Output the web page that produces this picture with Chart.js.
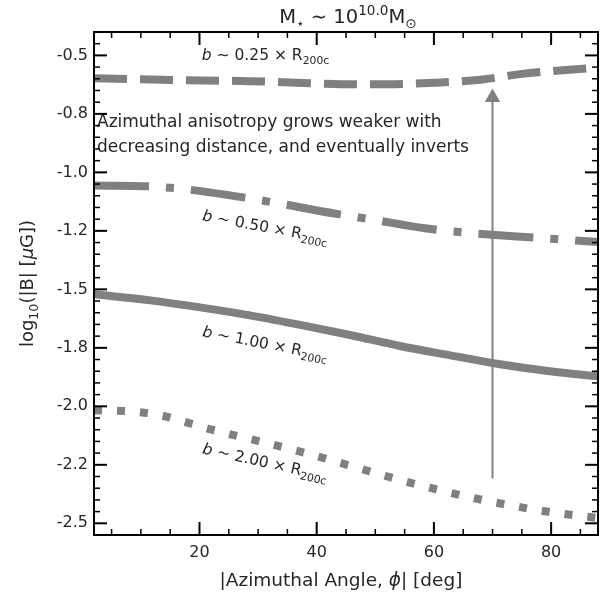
<!DOCTYPE html>
<html>
<head>
<meta charset="utf-8">
<script src="https://cdn.jsdelivr.net/npm/chart.js@4"></script>
<style>
  html, body { margin: 0; padding: 0; background: #fff; }
  #wrap { width: 610px; height: 601px; position: relative; }
</style>
</head>
<body>
<div id="wrap"><canvas id="c"></canvas></div>
<script>
// azimuthal angle (deg) and log10|B| for each impact parameter
const phi025 = [2, 20.6, 28.6, 36.5, 44.3, 52.2, 60.2, 68, 74.7, 83.7, 88];
const logB025 = [-0.598, -0.607, -0.61, -0.617, -0.623, -0.623, -0.617, -0.604, -0.58, -0.56, -0.553];

const phi050 = [2, 11.6, 17.9, 27.4, 33.4, 42.8, 49.1, 58.5, 64.8, 74.2, 80.7, 88];
const logB050 = [-1.056, -1.06, -1.073, -1.107, -1.132, -1.175, -1.2, -1.239, -1.256, -1.274, -1.285, -1.298];

const phi100 = [2, 11.6, 20.1, 28.6, 37.2, 45.7, 54.2, 62.8, 71.3, 79.8, 88];
const logB100 = [-1.521, -1.547, -1.577, -1.611, -1.652, -1.695, -1.742, -1.782, -1.82, -1.85, -1.872];

const phi200 = [2, 8.1, 13.3, 18.4, 22.1, 29.8, 37.7, 45.2, 52.5, 59.3, 66.2, 73, 79.8, 88];
const logB200 = [-2.017, -2.021, -2.038, -2.073, -2.1, -2.147, -2.197, -2.25, -2.303, -2.348, -2.389, -2.423, -2.452, -2.478];

// arrow from the outer to the inner curves
const arrowPhi = [70, 70];
const arrowLogB = [-2.308, -0.68];

const xTickValues = [20, 40, 60, 80];
const xTickLabels = ['20', '40', '60', '80'];
const xMinorTicks = [5, 10, 15, 25, 30, 35, 45, 50, 55, 65, 70, 75, 85];
const yTickValues = [-0.5, -0.75, -1.0, -1.25, -1.5, -1.75, -2.0, -2.25, -2.5];
const yTickLabels = ['-0.5', '-0.8', '-1.0', '-1.2', '-1.5', '-1.8', '-2.0', '-2.2', '-2.5'];

const FONT = '"DejaVu Sans", sans-serif';
const GRAY = '#808080';
const INK = '#262626';

const pts = (xs, ys) => xs.map((x, i) => ({ x, y: ys[i] }));

// rich text: parts = [{t, it, sub, sup}]
function richWidth(ctx, parts, size) {
  let w = 0;
  parts.forEach(p => {
    const s = (p.sub || p.sup) ? size * 0.7 : size;
    ctx.font = `${p.it ? 'italic ' : ''}${s}px ${FONT}`;
    w += ctx.measureText(p.t).width;
  });
  return w;
}
function drawRich(ctx, parts, x, y, angle, size, align) {
  ctx.save();
  ctx.translate(x, y);
  ctx.rotate(angle * Math.PI / 180);
  ctx.textBaseline = 'alphabetic';
  ctx.textAlign = 'left';
  ctx.fillStyle = INK;
  let cx = align === 'center' ? -richWidth(ctx, parts, size) / 2 : 0;
  parts.forEach(p => {
    const s = (p.sub || p.sup) ? size * 0.7 : size;
    ctx.font = `${p.it ? 'italic ' : ''}${s}px ${FONT}`;
    const dy = p.sub ? size * 0.25 : p.sup ? -size * 0.42 : 0;
    ctx.fillText(p.t, cx, dy);
    cx += ctx.measureText(p.t).width;
  });
  ctx.restore();
}

const bLabel = v => [{ t: 'b', it: true }, { t: ' \u223C ' + v + ' \u00D7 R' }, { t: '200c', sub: true }];

const curveLabels = [
  { parts: bLabel('0.25'), x: 20.4, y: -0.521, rot: 0 },
  { parts: bLabel('0.50'), x: 20.4, y: -1.205, rot: 10.5 },
  { parts: bLabel('1.00'), x: 20.4, y: -1.701, rot: 11 },
  { parts: bLabel('2.00'), x: 20.4, y: -2.201, rot: 12.5 },
];

const decorations = {
  id: 'decorations',
  afterDatasetsDraw(chart) {
    const { ctx, scales: { x, y } } = chart;
    curveLabels.forEach(l => drawRich(ctx, l.parts, x.getPixelForValue(l.x), y.getPixelForValue(l.y), l.rot, 15.5));
    // annotation text
    ctx.save();
    ctx.fillStyle = INK;
    ctx.font = `17px ${FONT}`;
    ctx.textBaseline = 'alphabetic';
    ctx.fillText('Azimuthal anisotropy grows weaker with', x.left + 3, 127);
    ctx.fillText('decreasing distance, and eventually inverts', x.left + 3, 152);
    ctx.restore();
  },
  afterDraw(chart) {
    const { ctx, chartArea: a, scales: { x, y } } = chart;
    ctx.save();
    ctx.strokeStyle = '#000';
    ctx.lineCap = 'butt';
    const tick = (x1, y1, x2, y2, w) => { ctx.lineWidth = w; ctx.beginPath(); ctx.moveTo(x1, y1); ctx.lineTo(x2, y2); ctx.stroke(); };
    xTickValues.forEach(v => { const px = x.getPixelForValue(v); tick(px, a.bottom, px, a.bottom - 13, 2); tick(px, a.top, px, a.top + 13, 2); });
    xMinorTicks.forEach(v => { const px = x.getPixelForValue(v); tick(px, a.bottom, px, a.bottom - 6, 1.5); tick(px, a.top, px, a.top + 6, 1.5); });
    yTickValues.forEach(v => { const py = y.getPixelForValue(v); tick(a.left, py, a.left + 13, py, 2); tick(a.right, py, a.right - 13, py, 2); });
    for (let k = -51; k <= -8; k++) {
      const v = k * 0.05;
      if (Math.abs(v * 4 - Math.round(v * 4)) < 1e-6) continue;
      const py = y.getPixelForValue(v);
      tick(a.left, py, a.left + 6, py, 1.5); tick(a.right, py, a.right - 6, py, 1.5);
    }
    ctx.lineWidth = 2;
    ctx.strokeRect(a.left, a.top, a.right - a.left, a.bottom - a.top);
    ctx.restore();

    // title and axis labels
    const cx = (a.left + a.right) / 2;
    drawRich(ctx, [{ t: 'M' }, { t: '\u22C6', sub: true }, { t: ' \u223C 10' }, { t: '10.0', sup: true }, { t: 'M' }, { t: '\u2299', sub: true }], cx + 2, 23, 0, 19.5, 'center');
    drawRich(ctx, [{ t: 'log' }, { t: '10', sub: true }, { t: '(|B| [' }, { t: '\u03BC', it: true }, { t: 'G])' }], 33, (a.top + a.bottom) / 2, -90, 18, 'center');
    drawRich(ctx, [{ t: '|Azimuthal Angle, ' }, { t: '\u03D5', it: true }, { t: '| [deg]' }], cx - 5, 586, 0, 18.5, 'center');
  }
};

const lineStyle = { borderColor: GRAY, borderWidth: 8, pointRadius: 0, showLine: true, cubicInterpolationMode: 'monotone', borderCapStyle: 'butt' };

new Chart(document.getElementById('c'), {
  type: 'scatter',
  data: {
    datasets: [
      { ...lineStyle, data: pts(phi025, logB025), borderDash: [33, 13] },
      { ...lineStyle, data: pts(phi050, logB050), borderDash: [55, 17, 8, 17] },
      { ...lineStyle, data: pts(phi100, logB100) },
      { ...lineStyle, data: pts(phi200, logB200), borderDash: [8, 15] },
      {
        data: pts(arrowPhi, arrowLogB), showLine: true, borderColor: GRAY, borderWidth: 2,
        pointRadius: [0, 9], pointStyle: 'triangle', pointBackgroundColor: GRAY, pointBorderWidth: 0,
      },
    ],
  },
  options: {
    responsive: true, maintainAspectRatio: false, animation: false,
    layout: { padding: { top: 32, right: 12, left: 0, bottom: 0 } },
    plugins: { legend: { display: false }, tooltip: { enabled: false } },
    scales: {
      x: {
        type: 'linear', min: 2, max: 88,
        grid: { display: false, drawTicks: false }, border: { display: false },
        afterBuildTicks: s => { s.ticks = xTickValues.map(v => ({ value: v })); },
        afterFit: s => { s.height = 66; },
        ticks: { padding: 8, color: INK, font: { family: FONT, size: 16 }, callback: v => xTickLabels[xTickValues.indexOf(v)] },
      },
      y: {
        type: 'linear', min: -2.55, max: -0.4,
        grid: { display: false, drawTicks: false }, border: { display: false },
        afterBuildTicks: s => { s.ticks = yTickValues.map(v => ({ value: v })); },
        afterFit: s => { s.width = 94; },
        ticks: { padding: 6, color: INK, font: { family: FONT, size: 16 }, callback: v => yTickLabels[yTickValues.indexOf(v)] },
      },
    },
  },
  plugins: [decorations],
});
</script>
</body>
</html>
